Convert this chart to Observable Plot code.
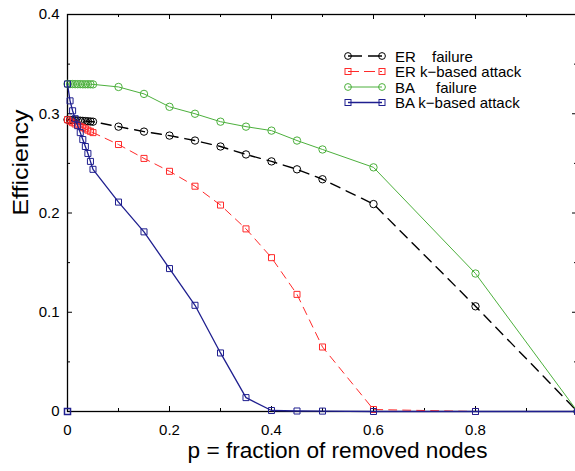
<!DOCTYPE html>
<html>
<head>
<meta charset="utf-8">
<script src="https://cdn.jsdelivr.net/npm/d3@7"></script>
<script src="https://cdn.jsdelivr.net/npm/@observablehq/plot@0.6"></script>
<style>
  html, body { margin: 0; padding: 0; background: #fff; }
  #chart svg { font-family: "Liberation Sans", Arial, Helvetica, sans-serif; }
</style>
</head>
<body>
<div id="chart"></div>
<script>
// ---- data ----
const pValues = [0, 0.005, 0.01, 0.015, 0.02, 0.025, 0.03, 0.035, 0.04, 0.045, 0.05,
                 0.1, 0.15, 0.2, 0.25, 0.3, 0.35, 0.4, 0.45, 0.5, 0.6, 0.8, 1.0];
const erFailure = [0.294, 0.2938, 0.2936, 0.2934, 0.2932, 0.293, 0.2928, 0.2926, 0.2924, 0.2922, 0.292,
                   0.287, 0.282, 0.278, 0.273, 0.267, 0.259, 0.252, 0.244, 0.234, 0.209, 0.106, 0.0];
const erAttack = [0.294, 0.2925, 0.291, 0.2897, 0.2885, 0.2872, 0.286, 0.2848, 0.2835, 0.2823, 0.281,
                  0.269, 0.255, 0.242, 0.227, 0.208, 0.184, 0.155, 0.118, 0.065, 0.002, 0.0, 0.0];
const baFailure = [0.330, 0.3299, 0.3299, 0.3298, 0.3298, 0.3298, 0.3297, 0.3297, 0.3297, 0.3297, 0.3296,
                   0.327, 0.320, 0.307, 0.300, 0.292, 0.287, 0.283, 0.273, 0.264, 0.246, 0.139, 0.0];
const baAttack = [0.330, 0.313, 0.303, 0.295, 0.288, 0.281, 0.274, 0.267, 0.260, 0.252, 0.244,
                  0.211, 0.181, 0.144, 0.107, 0.059, 0.014, 0.001, 0.0005, 0.0004, 0.0, 0.0, 0.0];
const baAttackExtraP = [0];
const baAttackExtraE = [0];

const seriesNames = ["ER    failure", "ER k\u2212based attack", "BA     failure", "BA k\u2212based attack"];
const xTickLabels = [0, 0.2, 0.4, 0.6, 0.8];
const xMajorTicks = [0, 0.2, 0.4, 0.6, 0.8, 1.0];
const xMinorTicks = [0.1, 0.3, 0.5, 0.7, 0.9];
const yTickLabels = [0, 0.1, 0.2, 0.3, 0.4];
const yMinorTicks = [0.05, 0.15, 0.25, 0.35];
const xLabel = "p = fraction of removed nodes";
const yLabel = "Efficiency";

// ---- styles ----
const W = 575, H = 471;
const mL = 67, mR = -2, mT = 14, mB = 60;
const frameW = W - mL - mR, frameH = H - mT - mB;
const styles = [
  {color: "#000000", symbol: "circle", width: 1.4, dash: "10,7"},
  {color: "#ff2a2a", symbol: "square", width: 1, dash: "8,6"},
  {color: "#4cb03c", symbol: "circle", width: 1, dash: null},
  {color: "#1f1f8f", symbol: "square", width: 1.3, dash: null}
];
const seriesValues = [erFailure, erAttack, baFailure, baAttack];
const tables = seriesValues.map(vals => pValues.map((p, i) => ({p, e: vals[i]})));
const extra = baAttackExtraP.map((p, i) => ({p, e: baAttackExtraE[i]}));

const seriesMarks = tables.flatMap((t, k) => {
  const s = styles[k];
  return [
    Plot.line(t, {x: "p", y: "e", stroke: s.color, strokeWidth: s.width, strokeDasharray: s.dash}),
    Plot.dot(t, {x: "p", y: "e", symbol: s.symbol, r: s.symbol === "circle" ? 3.7 : 3.4,
                 stroke: s.color, strokeWidth: 1, fill: "none"})
  ];
});

const fmt = d => String(d);

const chart = Plot.plot({
  width: W, height: H,
  marginLeft: mL, marginRight: mR, marginTop: mT, marginBottom: mB,
  style: {fontSize: "15px", fontFamily: "'Liberation Sans', Arial, sans-serif", background: "#fff"},
  x: {domain: [0, 1]},
  y: {domain: [0, 0.4]},
  marks: [
    Plot.frame({stroke: "#000", strokeWidth: 1.3}),
    // inward ticks
    Plot.ruleX(xMajorTicks, {x: d => d, insetTop: frameH - 5, stroke: "#000"}),
    Plot.ruleX(xMajorTicks, {x: d => d, insetBottom: frameH - 5, stroke: "#000"}),
    Plot.ruleX(xMinorTicks, {x: d => d, insetTop: frameH - 3, stroke: "#000"}),
    Plot.ruleX(xMinorTicks, {x: d => d, insetBottom: frameH - 3, stroke: "#000"}),
    Plot.ruleY(yTickLabels, {y: d => d, insetRight: frameW - 5, stroke: "#000"}),
    Plot.ruleY(yTickLabels, {y: d => d, insetLeft: frameW - 5, stroke: "#000"}),
    Plot.ruleY(yMinorTicks, {y: d => d, insetRight: frameW - 3, stroke: "#000"}),
    Plot.ruleY(yMinorTicks, {y: d => d, insetLeft: frameW - 3, stroke: "#000"}),
    Plot.axisX(xTickLabels, {tickSize: 0, tickPadding: 13, label: null, fontSize: 15, tickFormat: fmt}),
    Plot.axisY(yTickLabels, {tickSize: 0, tickPadding: 8, label: null, fontSize: 15, tickFormat: fmt}),
    ...seriesMarks,
    Plot.dot(extra, {x: "p", y: "e", symbol: "square", r: 3.4, stroke: styles[3].color, fill: "none"}),
    Plot.text([xLabel], {frameAnchor: "bottom", dx: 15, dy: 46, fontSize: 22}),
    Plot.text([yLabel], {frameAnchor: "left", rotate: -90, dx: -47, dy: 2.5, fontSize: 22})
  ]
});
document.getElementById("chart").appendChild(chart);

// stretch axis titles to the reference's widths
const svg = d3.select(chart);
svg.selectAll("text").each(function() {
  const t = this.textContent;
  if (t === xLabel) d3.select(this).attr("textLength", 300).attr("lengthAdjust", "spacingAndGlyphs");
  if (t === yLabel) d3.select(this).attr("textLength", 106).attr("lengthAdjust", "spacingAndGlyphs");
});

// legend
const legendRows = [56, 71.5, 87, 102.5];
const lg = svg.append("g").attr("class", "legend").attr("text-anchor", "start");
seriesNames.forEach((name, k) => {
  const s = styles[k], yy = legendRows[k];
  const g = lg.append("g");
  g.append("line").attr("x1", 348).attr("x2", 382).attr("y1", yy).attr("y2", yy)
    .attr("stroke", s.color).attr("stroke-width", s.width)
    .attr("stroke-dasharray", s.dash ? (k === 0 ? "14,6" : "11,5") : null);
  [348, 382].forEach(cx => {
    if (s.symbol === "circle") {
      g.append("circle").attr("cx", cx).attr("cy", yy).attr("r", 3.4)
        .attr("fill", "none").attr("stroke", s.color);
    } else {
      g.append("rect").attr("x", cx - 3).attr("y", yy - 3).attr("width", 6).attr("height", 6)
        .attr("fill", "none").attr("stroke", s.color);
    }
  });
  const parts = name.split(/\s+(?=failure)/);
  const addText = (x, str) => g.append("text").attr("x", x).attr("y", yy + 5.5)
    .attr("font-size", 15).attr("fill", "#000").attr("text-anchor", "start").text(str);
  if (parts.length === 2) {
    addText(395, parts[0]);
    addText(k === 0 ? 432 : 436, parts[1]);
  } else {
    addText(395, name);
  }
});
</script>
</body>
</html>
